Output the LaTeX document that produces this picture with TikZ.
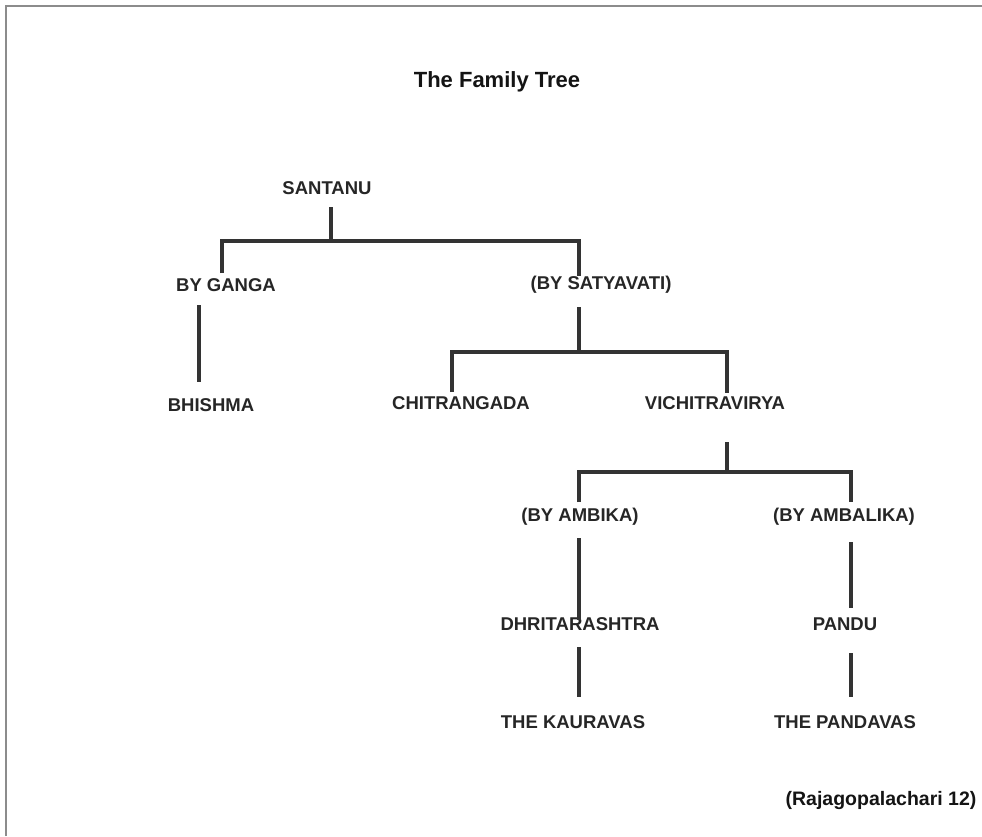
\documentclass[tikz,border=0pt]{standalone}
\usepackage{fontspec}
\setmainfont{Liberation Sans}
\begin{document}
\begin{tikzpicture}[x=1pt,y=-1pt,
  person/.style={inner sep=0pt,anchor=center,text=black!85,font=\bfseries\fontsize{18.5}{22}\selectfont},
  link/.style={draw=black!80,line width=3.2pt},
  frame/.style={draw=black!45,line width=2.5pt}]
\useasboundingbox (0,0) rectangle (982,836);
\fill[white] (0,0) rectangle (982,836);
\draw[frame] (6,836) -- (6,6) -- (982,6);
\node[inner sep=0pt,text=black!92,font=\bfseries\fontsize{22}{25}\selectfont] (title) at (497,82) {The Family Tree};
\node[person] (santanu) at (327,188) {SANTANU};
\node[person] (ganga) at (226,285) {BY GANGA};
\node[person] (satya) at (601,285) {(BY SATYAVATI)};
\node[person] (bhishma) at (211,405) {BHISHMA};
\node[person] (chitra) at (461,403) {CHITRANGADA};
\node[person] (vichi) at (715,403) {VICHITRAVIRYA};
\node[person] (ambika) at (580,517) {(BY AMBIKA)};
\node[person] (ambalika) at (844,517) {(BY AMBALIKA)};
\node[person] (dhrita) at (580,624) {DHRITARASHTRA};
\node[person] (pandu) at (845,624) {PANDU};
\node[person] (kaurava) at (573,722) {THE KAURAVAS};
\node[person] (pandava) at (845,722) {THE PANDAVAS};
\node[inner sep=0pt,text=black!92,font=\bfseries\fontsize{19.5}{22}\selectfont] (source) at (881,800) {(Rajagopalachari 12)};
% Santanu
\draw[link] ([shift={(4,19)}]santanu.center) -- ++(0,34) coordinate (j1);
\draw[link] ([shift={(-4,-12)}]ganga.center) |- (j1) -| ([shift={(-22,-9)}]satya.center);
\draw[link] ([shift={(-27,20)}]ganga.center) -- ([shift={(-12,-23)}]bhishma.center);
% Satyavati
\draw[link] ([shift={(-22,22)}]satya.center) -- ++(0,45) coordinate (j2);
\draw[link] ([shift={(-9,-11)}]chitra.center) |- (j2) -| ([shift={(12,-10)}]vichi.center);
% Vichitravirya
\draw[link] ([shift={(12,39)}]vichi.center) -- ++(0,30) coordinate (j3);
\draw[link] ([shift={(-1,-15)}]ambika.center) |- (j3) -| ([shift={(7,-15)}]ambalika.center);
\draw[link] ([shift={(-1,21)}]ambika.center) -- ([shift={(-1,-4)}]dhrita.center);
\draw[link] ([shift={(7,25)}]ambalika.center) -- ([shift={(6,-16)}]pandu.center);
\draw[link] ([shift={(-1,23)}]dhrita.center) -- ([shift={(6,-25)}]kaurava.center);
\draw[link] ([shift={(6,29)}]pandu.center) -- ([shift={(6,-25)}]pandava.center);
\end{tikzpicture}
\end{document}
